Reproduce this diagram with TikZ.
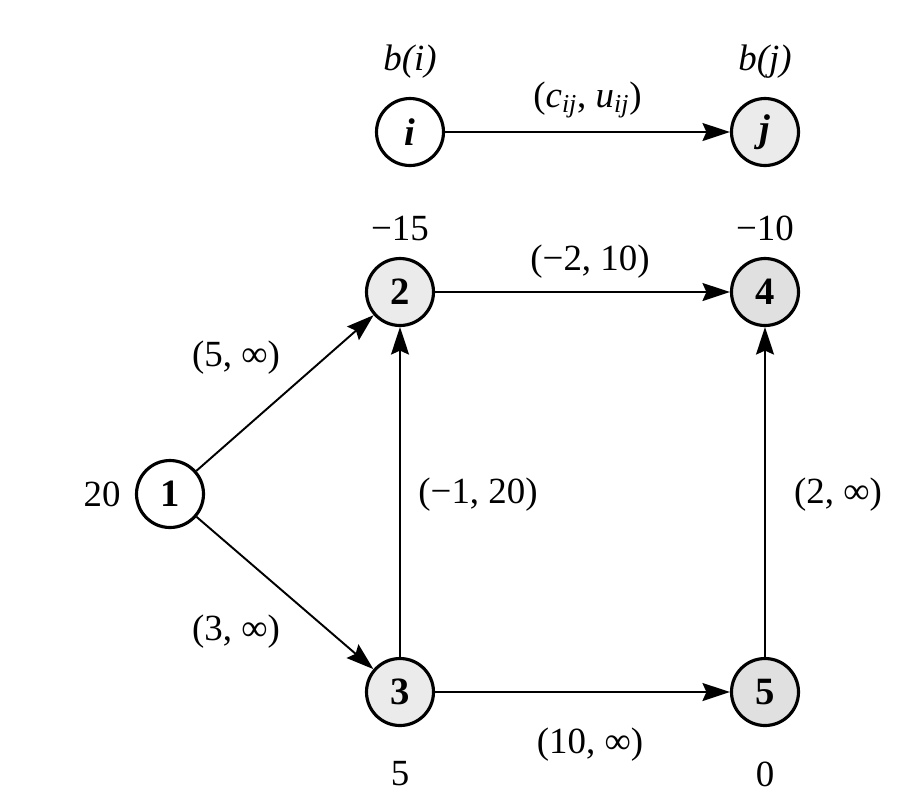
\documentclass[tikz,border=0pt]{standalone}
\usepackage{fontspec}
\setmainfont{Liberation Serif}
\usetikzlibrary{arrows.meta}

\begin{document}
\begin{tikzpicture}[
			x=0.02cm, y=-0.02cm,
			every node/.style={font=\fontsize{21}{24}\selectfont},
			vertex/.style={circle, draw, line width=1.8pt, minimum size=1.34cm, inner sep=0pt, font=\fontsize{22}{24}\selectfont\bfseries},
			shaded/.style={vertex, fill=black!8},
			arc/.style={line width=1.1pt, -{Stealth[length=5.5mm,width=3.6mm,inset=0.8mm]}}
			]
			\useasboundingbox (0,0) rectangle (900,806);
			
			% legend
			\node[vertex] (i) at (410,132) {\itshape i};
			\node[shaded] (j) at (765,132) {\itshape j};
			\node (bi) at (410,62) {\itshape b(i)};
			\node (bj) at (765,62) {\itshape b(j)};
			\draw[arc] (i) -- node[above=4pt] {(\textit{c}\textsubscript{\textit{ij}}, \textit{u}\textsubscript{\textit{ij}})} (j);
			
			% network
			\node[shaded] (n2) at (400,292) {2};
			\node[shaded, fill=black!12] (n4) at (765,292) {4};
			\node[vertex] (n1) at (170,494) {1};
			\node[shaded] (n3) at (400,692) {3};
			\node[shaded, fill=black!12] (n5) at (765,692) {5};
			
			\node (b2) at (400,228) {−15};
			\node (b4) at (765,228) {−10};
			\node (b1) at (102,494) {20};
			\node (b3) at (400,774) {5};
			\node (b5) at (765,774) {0};
			
			\draw[arc] (n1) -- (n2);
			\draw[arc] (n1) -- (n3);
			\draw[arc] (n2) -- (n4);
			\draw[arc] (n3) -- (n2);
			\draw[arc] (n3) -- (n5);
			\draw[arc] (n5) -- (n4);
			
			\node at (236,358) {(5, ∞)};
			\node at (236,632) {(3, ∞)};
			\node at (590,262) {(−2, 10)};
			\node at (478,495) {(−1, 20)};
			\node at (838,495) {(2, ∞)};
			\node at (590,745) {(10, ∞)};
		\end{tikzpicture}
\end{document}
